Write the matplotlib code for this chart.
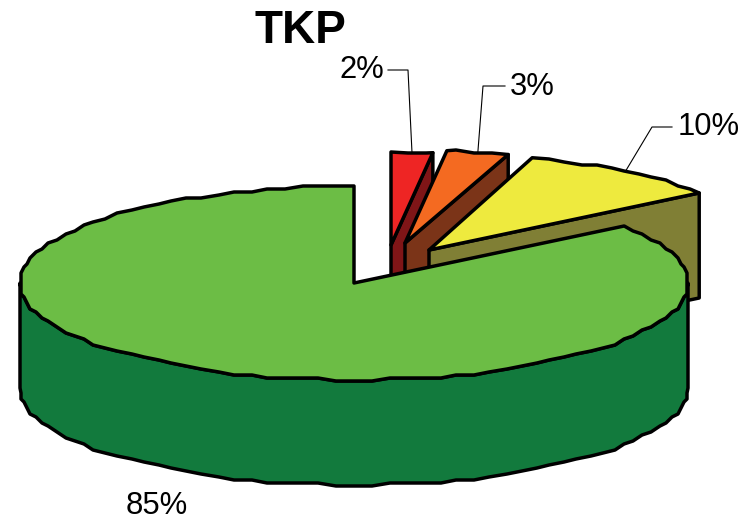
import numpy as np
import matplotlib
matplotlib.use("Agg")
import matplotlib.pyplot as plt
from matplotlib.patches import Polygon

title = "TKP"
shares = [2, 3, 10, 85]
top_colors = ["#EE2524", "#F46A21", "#EEEA3E", "#6CBD45"]
side_colors = ["#7F1517", "#7B3418", "#807F35", "#127A3D"]

# pie geometry, in pixels of the picture
center = (354, 283)
rx = 334
ry = [93, 93, 97, 97]
depth = 105
offsets = [(37, -38), (51, -40), (75, -33), (0, 0)]

# label position and elbow of the leader line
label_pos = [(384, 70), (510, 87), (678, 127), (157, 506)]
label_ha = ["right", "left", "left", "center"]
elbows = [((388, 70), (408, 70)), ((505, 86), (483, 86)), ((672, 127), (652, 127)), None]

plt.rcParams["font.family"] = ["Liberation Sans", "DejaVu Sans"]


def rim(cx, cy, r, a0, a1):
    # angles in degrees, clockwise from 12 o'clock
    inner = np.arange(np.ceil(a0 / 3) * 3, a1, 3.0)
    deg = np.unique(np.concatenate([[a0], inner, [a1]]))
    t = np.radians(deg)
    x = cx + rx * np.sin(t)
    y = cy - r * np.cos(t)
    # the original outline is slightly stepped, so snap the inner points to a grid
    x[1:-1] = np.round(x[1:-1] / 3) * 3
    y[1:-1] = np.round(y[1:-1] / 3) * 3
    return np.column_stack([x, y])


fig = plt.figure(figsize=(7.42, 5.21), dpi=100)
ax = fig.add_axes([0, 0, 1, 1])
ax.set_xlim(0, 742)
ax.set_ylim(521, 0)
ax.axis("off")

edge = {"edgecolor": "black", "linewidth": 2.5, "joinstyle": "round"}
angles = np.concatenate([[0], np.cumsum(shares)]) * 3.6

for i, value in enumerate(shares):
    a0, a1 = angles[i], angles[i + 1]
    cx = center[0] + offsets[i][0]
    cy = center[1] + offsets[i][1]
    arc = rim(cx, cy, ry[i], a0, a1)

    if value < 50:
        # wall on the trailing radial side of a pulled-out slice
        wall = [(cx, cy), arc[-1], (arc[-1][0], arc[-1][1] + depth), (cx, cy + depth)]
        ax.add_patch(Polygon(wall, closed=True, facecolor=side_colors[i], **edge))
    else:
        # outer wall of the big slice, the part that faces the viewer
        front = rim(cx, cy, ry[i], 90, 270)
        lower = front[::-1] + np.array([0, depth])
        ax.add_patch(Polygon(np.vstack([front, lower]), closed=True, facecolor=side_colors[i], **edge))

    top = np.vstack([[(cx, cy)], arc])
    ax.add_patch(Polygon(top, closed=True, facecolor=top_colors[i], **edge))

    # leader line goes to the middle of the rim of the slice
    if elbows[i] is not None:
        mid = np.radians((a0 + a1) / 2)
        tip = (cx + rx * np.sin(mid), cy - ry[i] * np.cos(mid))
        xs = [elbows[i][0][0], elbows[i][1][0], tip[0]]
        ys = [elbows[i][0][1], elbows[i][1][1], tip[1]]
        ax.plot(xs, ys, color="black", linewidth=0.8, zorder=0.5)

    ax.text(label_pos[i][0], label_pos[i][1], f"{value}%", fontsize=22.3,
            ha=label_ha[i], va="center", color="black")

ax.text(300, 43, title, fontsize=33, fontweight="bold", ha="center", va="baseline", color="black")

fig.savefig("out.png", dpi=100)
